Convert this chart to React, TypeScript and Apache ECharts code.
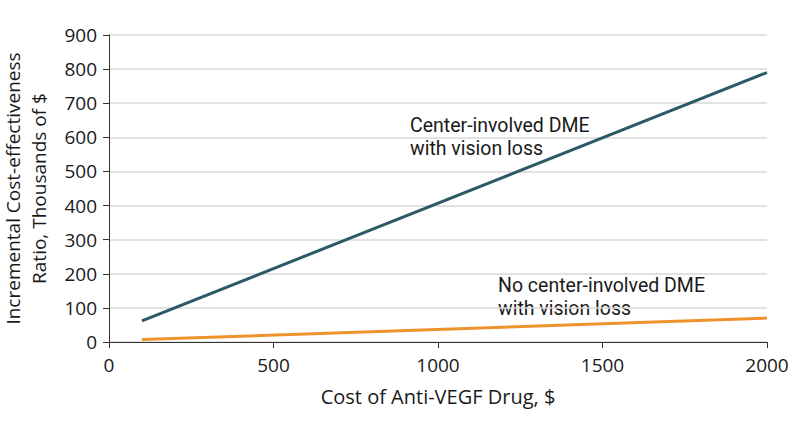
import React, { useEffect, useRef } from "react";
import * as echarts from "echarts";

const xTicks = [0, 500, 1000, 1500, 2000];
const costs = [100, 2000];
const centerInvolved = [62, 790];
const noCenterInvolved = [7, 70];
const seriesNames = ["Center-involved DME with vision loss", "No center-involved DME with vision loss"];
const labelLines = [
  ["Center-involved DME", "with vision loss"],
  ["No center-involved DME", "with vision loss"],
];
const xName = "Cost of Anti-VEGF Drug, $";
const yName = "Incremental Cost-effectiveness\nRatio, Thousands of $";

const FONT = "Open Sans";
const NOTE_FONT = "Roboto";
const FS = 19;

export default function App() {
  const ref = useRef<HTMLDivElement>(null);
  useEffect(() => {
    const chart = echarts.init(ref.current!, null, { renderer: "svg" });
    const anchors = [
      { left: 410, top: 115 },
      { left: 498, top: 275 },
    ];
    const graphics: any[] = [];
    labelLines.forEach((lines, i) => {
      lines.forEach((t, j) => {
        graphics.push({
          type: "text",
          left: anchors[i].left,
          top: anchors[i].top + j * 23.5,
          style: { text: t, fontSize: 19.5, fill: "#1a1a1a", fontFamily: NOTE_FONT },
        });
      });
    });
    chart.setOption({
      animation: false,
      textStyle: { fontFamily: FONT },
      grid: { left: 109, right: 27, top: 35, bottom: 81, containLabel: false, outerBoundsMode: "none" },
      xAxis: {
        type: "value",
        min: xTicks[0],
        max: xTicks[xTicks.length - 1],
        interval: 500,
        name: xName,
        nameLocation: "middle",
        nameGap: 44,
        nameTextStyle: { fontSize: 20, color: "#1a1a1a", fontFamily: FONT },
        axisLine: { show: true, lineStyle: { color: "#333", width: 1 } },
        axisTick: { show: true, length: 6, lineStyle: { color: "#333" } },
        axisLabel: { fontSize: FS, color: "#1a1a1a", margin: 13, fontFamily: FONT, formatter: (v: number) => String(v) },
        splitLine: { show: false },
      },
      yAxis: {
        type: "value",
        min: 0,
        max: 900,
        interval: 100,
        name: yName,
        nameLocation: "middle",
        nameGap: 57,
        nameRotate: 90,
        nameTextStyle: { fontSize: FS, color: "#1a1a1a", lineHeight: 26, fontFamily: FONT },
        axisLine: { show: true, lineStyle: { color: "#333", width: 1 } },
        axisTick: { show: true, length: 6, lineStyle: { color: "#333" } },
        axisLabel: { fontSize: FS, color: "#1a1a1a", margin: 12, fontFamily: FONT, formatter: (v: number) => String(v) },
        splitLine: { show: true, lineStyle: { color: "#d9d9d9", width: 1.5 } },
      },
      series: [
        {
          type: "line",
          name: seriesNames[0],
          data: costs.map((c, i) => [c, centerInvolved[i]]),
          showSymbol: false,
          lineStyle: { color: "#2b5a66", width: 3 },
          z: 3,
        },
        {
          type: "line",
          name: seriesNames[1],
          data: costs.map((c, i) => [c, noCenterInvolved[i]]),
          showSymbol: false,
          lineStyle: { color: "#f0922b", width: 3 },
          z: 3,
        },
      ],
      graphic: graphics,
    });
    return () => chart.dispose();
  }, []);
  return <div ref={ref} style={{ width: 794, height: 423, position: "absolute", left: 0, top: 0 }} />;
}
